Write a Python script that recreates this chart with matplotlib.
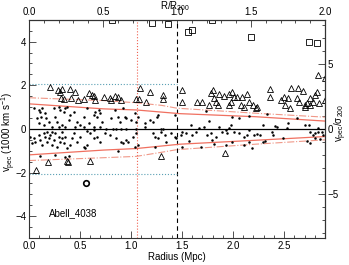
import matplotlib
matplotlib.use("Agg")
import matplotlib.pyplot as plt
import numpy as np

plt.rcParams['font.family'] = ['Liberation Sans', 'DejaVu Sans']
plt.rcParams['mathtext.fontset'] = 'custom'
plt.rcParams['mathtext.rm'] = 'Liberation Sans'
plt.rcParams['mathtext.it'] = 'Liberation Sans'

# cluster constants
r200 = 1.45
sigma200 = 0.595
cluster = "Abell_4038"

# members (filled dots): radius (Mpc), v_pec (1000 km/s)
dot_r = [0.045, 0.095, 0.11, 0.127, 0.078, 0.118, 0.16, 0.17, 0.095, 0.144, 0.193, 0.242,
         0.258, 0.275, 0.29, 0.307, 0.34, 0.356, 0.373, 0.389, 0.405, 0.438, 0.47, 0.503,
         0.536, 0.569, 0.585, 0.634, 0.65, 0.667, 0.683, 0.70, 0.716, 0.634, 0.536, 0.225,
         0.29, 0.324, 0.356, 0.454, 0.70,
         0.013, 0.045, 0.03, 0.062, 0.095, 0.11, 0.127, 0.144, 0.16, 0.176, 0.193, 0.209,
         0.225, 0.242, 0.258, 0.275, 0.29, 0.307, 0.324, 0.34, 0.356, 0.373, 0.405, 0.42,
         0.438, 0.47, 0.503, 0.536, 0.552, 0.569, 0.60, 0.634, 0.667, 0.70, 0.11, 0.258,
         0.356, 0.389, 0.225, 0.324, 0.176, 0.634, 0.569,
         0.84, 0.922, 0.807, 0.873, 0.89, 0.938, 0.954, 1.003, 1.036, 1.052, 1.069, 1.134,
         1.183, 1.216, 1.25, 1.265, 0.758, 0.824, 0.856, 0.905, 0.954, 1.052, 1.134, 1.297,
         1.314, 1.428, 0.742, 0.79, 0.856, 0.905, 0.922, 0.954, 1.02, 1.052, 1.069, 1.036,
         1.216, 1.232, 1.265, 1.297, 1.33, 1.346, 1.395, 1.428, 1.444, 0.873, 1.232, 0.97,
         1.732, 1.765, 1.993, 2.059, 2.157, 1.585, 1.503, 1.487, 1.536, 1.60, 1.634, 1.667,
         1.716, 1.748, 1.78, 1.83, 1.863, 1.895, 1.93, 1.945, 1.96, 1.977, 2.01, 2.059,
         2.108, 2.14, 2.157, 2.206, 1.503, 1.683, 1.814, 1.93, 1.993, 2.108, 2.157, 2.19,
         1.797, 1.569,
         2.33, 2.624, 2.54, 2.297, 2.412, 2.428, 2.706, 2.74, 2.837, 2.232, 2.265, 2.38,
         2.395, 2.526, 2.755, 2.788, 2.80, 2.837, 2.87, 2.886, 2.297, 2.314, 2.493, 2.72,
         2.755, 2.80, 2.853]
dot_v = [0.94, 0.87, 0.79, 0.94, 0.49, 0.56, 0.72, 0.49, 0.26, 0.18, 0.33, 0.94,
         0.56, 0.33, 1.02, 0.87, 0.76, 0.94, 1.02, 0.41, 0.64, 0.79, 0.33, 0.18,
         0.56, 0.94, 0.26, 0.64, 0.79, 0.56, 0.87, 0.72, 0.33, 0.11, 0.11, 0.11,
         0.11, 0.18, 0.11, 0.11, 0.11,
         -0.35, -0.43, -0.65, -0.58, -0.27, -0.50, -0.73, -0.20, -0.35, -0.58, -0.43, -0.27,
         -0.73, -0.50, -0.20, -0.81, -0.35, -0.58, -0.43, -0.65, -0.35, -0.88, -0.73, -0.43,
         -0.20, -0.58, -0.35, -0.81, -0.88, -0.73, -0.20, -0.43, -0.35, -0.58, -1.26, -1.19,
         -1.31, -1.26, -0.12, -0.12, -0.12, -0.05, -0.09,
         0.87, 0.94, 0.49, 0.56, 0.33, 0.56, 0.49, 0.41, 0.72, 0.33, 0.56, 0.26,
         0.41, 0.33, 0.56, 0.64, 0.01, 0.01, -0.02, 0.01, 0.01, 0.01, 0.11, 0.01,
         -0.02, 0.64, -0.20, -0.27, -0.43, -0.58, -0.65, -0.50, -0.35, -0.20, -0.73, -0.81,
         -0.20, -0.35, -0.43, -0.12, -0.27, -0.58, -0.20, -0.35, -0.43, -1.0, -0.85, -0.58,
         0.82, 0.37, 0.56, 0.52, 0.61, 0.18, -0.12, -0.27, -0.20, -0.27, -0.12, 0.03,
         0.11, -0.27, -0.20, -0.35, 0.11, -0.12, -0.05, -0.20, 0.03, 0.18, -0.12, -0.20,
         -0.35, -0.27, -0.05, -0.27, -0.81, -0.81, -0.70, -0.76, -0.58, -0.73, -0.61, -0.88,
         -0.50, -0.55,
         0.67, 0.49, 0.26, 0.18, 0.15, 0.11, 0.18, 0.18, 0.06, -0.24, -0.27, -0.12,
         -0.27, 0.03, -0.12, -0.27, -0.20, -0.12, -0.15, -0.27, -0.61, -0.55, -0.43, -0.55,
         -0.66, -0.43, -0.46]

# interlopers (open triangles)
tri_r = [0.21, 0.28, 0.32, 0.30, 0.40, 0.45, 0.31, 0.34, 0.41, 0.48, 0.54, 0.59, 0.62, 0.64,
         0.65, 0.19, 0.37, 0.38, 0.60, 0.07, 1.29, 1.09, 1.19, 1.31, 1.31, 0.74, 0.79, 0.84,
         0.87, 0.90, 0.80, 1.05, 1.08, 1.15, 1.50, 1.50, 1.65, 1.70, 1.78, 1.80, 1.81, 1.83,
         1.85, 1.76, 1.86, 1.91, 1.96, 1.99, 2.01, 2.04, 1.98, 1.96, 2.09, 2.14, 2.08, 2.11,
         2.16, 2.20, 2.22, 1.92, 2.36, 2.36, 2.23, 2.57, 2.64, 2.69, 2.47, 2.50, 2.54, 2.51,
         2.56, 2.63, 2.65, 2.70, 2.72, 2.75, 2.78, 2.80, 2.82, 2.84, 2.83, 2.90, 2.90, 2.75,
         2.70]
tri_v = [1.93, 1.78, 1.83, 1.70, 1.83, 1.70, 1.40, 1.37, 1.43, 1.34, 1.37, 1.63, 1.55, 1.52,
         1.34, -1.52, -1.46, -1.52, -1.49, -1.87, -1.22, 1.86, 1.70, 1.55, 1.37, 1.48, 1.43, 1.52,
         1.48, 1.32, 1.32, 1.37, 1.37, 1.22, 1.78, 1.25, 1.25, 1.22, 1.63, 1.78, 1.40, 1.25,
         1.10, 1.10, 1.58, 1.52, 1.58, 1.68, 1.48, 1.48, 1.25, 1.10, 1.48, 1.58, 1.10, 1.02,
         1.25, 1.10, 0.97, -1.11, 1.81, 1.48, 1.02, 1.86, 1.86, 1.73, 1.32, 1.48, 1.40, 1.10,
         0.94, 1.43, 1.25, 1.10, 1.17, 1.40, 1.25, 1.55, 1.70, 1.17, 2.47, 2.34, 1.32, 1.10,
         0.99]

# outliers (open squares) and the removed galaxy (circle)
sq_r = [0.81, 1.21, 1.36, 1.56, 1.60, 1.79, 2.18, 2.74, 2.82]
sq_v = [4.98, 4.85, 4.80, 4.43, 4.52, 4.98, 4.20, 4.00, 3.93]
circ_r = [0.56]
circ_v = [-2.47]

# caustic-like envelopes
env_r = [0.0, 0.73, 1.05, 1.48, 2.22, 2.9]
env_up = [1.15, 0.92, 0.87, 0.70, 0.56, 0.36]
env_lo = [-1.19, -0.97, -0.90, -0.70, -0.52, -0.35]
env2_r = [0.0, 0.73, 1.05, 1.30, 1.45, 2.22, 2.9]
env2_up = [1.43, 1.30, 1.20, 1.08, 0.95, 0.72, 0.54]
env2_lo = [-1.45, -1.32, -1.26, -1.07, -0.95, -0.70, -0.50]

vcut = 2.08
r_dotted = 1.06

fig = plt.figure(figsize=(3.49, 2.65), dpi=100)
ax = fig.add_axes([0.083, 0.102, 0.848, 0.823])

ax.axhline(0, color='black', lw=0.9)
ax.axvline(r200, color='black', lw=0.8, ls=(0, (4, 3)))
ax.axvline(r_dotted, color='#f06050', lw=0.8, ls=':')
ax.plot([0, r200], [vcut, vcut], color='#5aa0b4', lw=0.8, ls=':')
ax.plot([0, r200], [-vcut, -vcut], color='#5aa0b4', lw=0.8, ls=':')

ax.plot(env_r, env_up, color='#f07060', lw=0.9)
ax.plot(env_r, env_lo, color='#f07060', lw=0.9)
ax.plot(env2_r, env2_up, color='#f09888', lw=0.8, ls='-.')
ax.plot(env2_r, env2_lo, color='#f09888', lw=0.8, ls='-.')

ax.plot(dot_r, dot_v, 'o', color='black', ms=1.8, mew=0)
ax.plot(tri_r, tri_v, '^', mfc='none', mec='black', ms=5, mew=0.6)
ax.plot(sq_r, sq_v, 's', mfc='none', mec='black', ms=5, mew=0.6, clip_on=True)
ax.plot(circ_r, circ_v, 'o', mfc='none', mec='black', ms=4, mew=1.2)

ax.text(0.2, -3.85, cluster, fontsize=7, ha='left', va='center')

ax.set_xlim(0, 2.9)
ax.set_ylim(-5, 5)
ax.set_xticks([0, 0.5, 1.0, 1.5, 2.0, 2.5])
ax.set_xticks(np.arange(0, 2.9, 0.1), minor=True)
ax.set_yticks([-4, -2, 0, 2, 4])
ax.set_yticks(np.arange(-5, 5.01, 0.5), minor=True)
ax.xaxis.set_major_formatter(plt.FormatStrFormatter('%.1f'))
ax.set_xlabel('Radius (Mpc)', fontsize=7, labelpad=1)

top = ax.secondary_xaxis('top', functions=(lambda r: r / r200, lambda u: u * r200))
top.set_xticks([0, 0.5, 1.0, 1.5, 2.0])
top.set_xticks(np.arange(0, 2.01, 0.1), minor=True)
top.xaxis.set_major_formatter(plt.FormatStrFormatter('%.1f'))

right = ax.secondary_yaxis('right', functions=(lambda v: v / sigma200, lambda s: s * sigma200))
right.set_yticks([-5, 0, 5])
right.set_yticks(np.arange(-8, 8.1, 1), minor=True)

# axis titles placed as figure text
fig.text(0.5, 1 - 6 / 265, r'R/R$_{200}$', fontsize=7, ha='center', va='center')
fig.text(9 / 349, 1 - 132 / 265, r'v$_{\rm pec}$ (1000 km s$^{-1}$)', fontsize=7,
         rotation=90, ha='center', va='center')
fig.text(341 / 349, 1 - 123 / 265, r'v$_{\rm pec}$/$\sigma_{200}$', fontsize=7,
         rotation=90, ha='center', va='center')

for a in (ax, top, right):
    a.tick_params(which='both', direction='in', labelsize=7, width=0.6, color='#333333')
    a.tick_params(which='major', length=5, pad=2)
    a.tick_params(which='minor', length=2.5)
for s in ax.spines.values():
    s.set_linewidth(0.8)
    s.set_color('#333333')

fig.savefig('out.png', dpi=100)
